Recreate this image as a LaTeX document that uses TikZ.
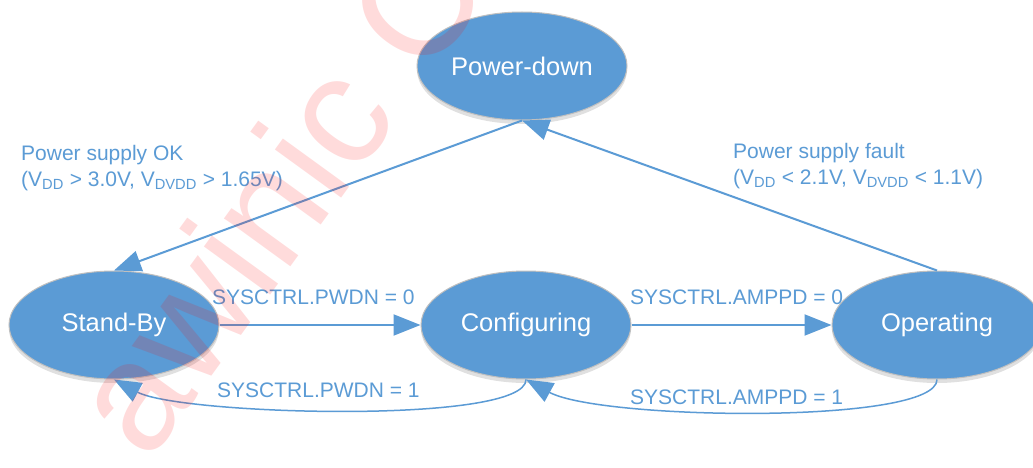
\documentclass[tikz,border=0pt]{standalone}
\usepackage{fontspec}
\setmainfont{Liberation Sans}
\usetikzlibrary{shapes.geometric,arrows.meta,shadows}
\definecolor{stblue}{HTML}{5B9BD5}
\definecolor{stedge}{HTML}{BFBFBF}
\tikzset{
  state/.style={ellipse, fill=stblue, draw=stedge, line width=1pt,
    minimum width=210pt, minimum height=108pt, inner sep=0pt,
    text=white, font=\fontsize{25.5}{28}\selectfont,
    drop shadow={shadow xshift=0pt, shadow yshift=-4pt, opacity=0.12, fill=black}},
  lbl/.style={inner sep=0pt, text=stblue, font=\fontsize{21}{26}\selectfont, align=left},
  conn/.style={draw=stblue, line width=2pt, -{Triangle[length=27pt,width=21pt]}},
  curv/.style={draw=stblue, line width=1.5pt, -{Triangle[length=27pt,width=21pt]}},
}
\begin{document}
\begin{tikzpicture}[x=1pt,y=-1pt]
\useasboundingbox (0,0) rectangle (1033,468);
\clip (0,0) rectangle (1033,468);
\fill[white] (0,0) rectangle (1033,468);

\node[state] (pd) at (522,66) {Power-down};
\node[state] (sb) at (114,325) {Stand-By};
\node[state] (cf) at (526,325) {Configuring};
\node[state] (op) at (937,325) {Operating};

\draw[conn] (pd.south) -- (sb.north);
\draw[conn] (op.north) -- (pd.south);
\draw[conn] (sb.east) -- (cf.west);
\draw[conn] (cf.east) -- (op.west);
\draw[curv] (cf.south) .. controls (526,425) and (180,415) .. (sb.south);
\draw[curv] (op.south) .. controls (937,425) and (600,420) .. (cf.south);

\node[lbl, anchor=north west] (ok) at (21,145) {Power supply OK\\(V\textsubscript{DD} > 3.0V, V\textsubscript{DVDD} > 1.65V)};
\node[lbl, anchor=north west] (fault) at (733,143) {Power supply fault\\(V\textsubscript{DD} < 2.1V, V\textsubscript{DVDD} < 1.1V)};
\node[lbl, anchor=west] (l1) at (212,297) {SYSCTRL.PWDN = 0};
\node[lbl, anchor=west] (l2) at (217,390) {SYSCTRL.PWDN = 1};
\node[lbl, anchor=west] (l3) at (630,297) {SYSCTRL.AMPPD = 0};
\node[lbl, anchor=west] (l4) at (630,397) {SYSCTRL.AMPPD = 1};

\node[anchor=base west, inner sep=0pt, rotate=54, text=red, text opacity=0.14,
  font=\fontsize{155}{160}\selectfont] (wm) at (148,464) {awinic C};
\end{tikzpicture}
\end{document}
